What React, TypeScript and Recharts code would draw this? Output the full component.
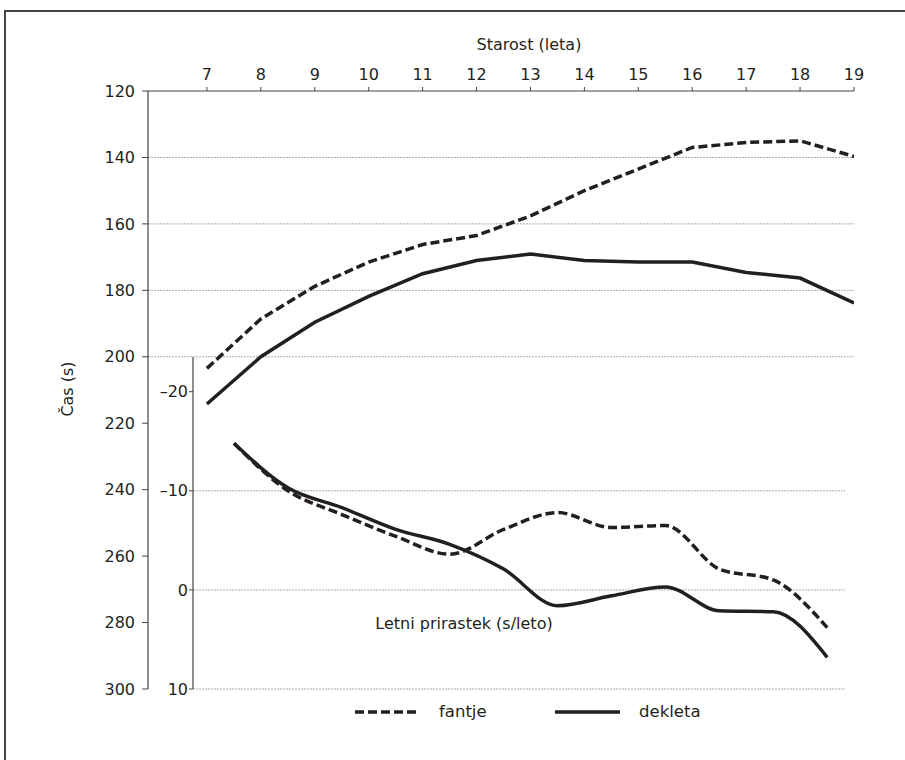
import { Line, LineChart, ReferenceLine, XAxis, YAxis } from "recharts";

// ages for the upper curves (race time)
const ages = [7, 8, 9, 10, 11, 12, 13, 14, 15, 16, 17, 18, 19];
const fantjeTime = [203.5, 188.6, 178.8, 171.5, 166.2, 163.5, 157.6, 150, 143.5, 137, 135.5, 135, 139.7];
const dekletaTime = [214.2, 200, 189.6, 181.8, 175, 171, 169.1, 171, 171.5, 171.5, 174.6, 176.3, 183.8];

// yearly gain, plotted between two ages
const midAges = [7.5, 8.5, 9.5, 10.5, 11.5, 12.5, 13.5, 14.5, 15.5, 16.5, 17.5, 18.5];
const fantjeGain = [-14.8, -10.0, -7.6, -5.4, -3.6, -6.1, -7.8, -6.3, -6.5, -2.1, -1.0, 3.8];
const dekletaGain = [-14.8, -10.3, -8.3, -6.1, -4.6, -2.1, 1.6, 0.6, -0.3, 2.1, 2.2, 6.8];

const timeTicks = [120, 140, 160, 180, 200, 220, 240, 260, 280, 300];
const timeGrid = [140, 160, 180, 200];
const gainTicks = [-20, -10, 0, 10];
const gainGrid = [-10, 0, 10];

const series = [
  { key: "fantje", name: "fantje", dash: "9 4" },
  { key: "dekleta", name: "dekleta", dash: undefined },
];

const timeRows = ages.map((age, i) => ({ age, fantje: fantjeTime[i], dekleta: dekletaTime[i] }));
const gainRows = midAges.map((age, i) => ({ age, fantje: fantjeGain[i], dekleta: dekletaGain[i] }));

const FONT = "'DejaVu Sans', Roboto, sans-serif";
const INK = "#231f20";
const AXIS = "#444";

// axis titles sit at fixed spots, not centred on the axis box
function Title({ px, py, text, rot = 0 }: { px: number; py: number; text: string; rot?: number }) {
  return (
    <text
      x={px}
      y={py}
      textAnchor="middle"
      fontFamily={FONT}
      fontSize={16}
      fill={INK}
      transform={rot ? `rotate(${rot}, ${px}, ${py})` : undefined}
    >
      {text}
    </text>
  );
}

function ChartLegend() {
  return (
    <div
      style={{
        position: "absolute",
        left: 355,
        top: 700,
        display: "flex",
        fontFamily: FONT,
        fontSize: 16.5,
        color: INK,
        lineHeight: "24px",
      }}
    >
      {series.map((s) => (
        <div key={s.key} style={{ display: "flex", alignItems: "center", width: 200 }}>
          <svg width={65} height={8}>
            <line x1={0} y1={4} x2={65} y2={4} stroke={INK} strokeWidth={3.5} strokeDasharray={s.dash} />
          </svg>
          <span style={{ marginLeft: 19 }}>{s.name}</span>
        </div>
      ))}
    </div>
  );
}

const tickStyle = { fontSize: 16, fill: INK, fontFamily: FONT };

export default function App() {
  return (
    <div style={{ position: "absolute", left: 0, top: 0, width: 905, height: 760, overflow: "hidden", background: "#fff" }}>
      <div
        style={{
          position: "absolute",
          left: 4,
          top: 10,
          width: 940,
          height: 800,
          borderTop: `2px solid ${AXIS}`,
          borderLeft: `2px solid ${AXIS}`,
        }}
      />
      <div style={{ position: "absolute", left: 0, top: 0 }}>
        <LineChart width={905} height={760} data={timeRows} margin={{ top: 10, right: 51, bottom: 71, left: 48 }}>
          <XAxis
            dataKey="age"
            type="number"
            orientation="top"
            domain={[5.907, 19]}
            ticks={ages}
            allowDataOverflow
            height={81}
            axisLine={{ stroke: AXIS, strokeWidth: 1.2 }}
            tickLine={{ stroke: AXIS }}
            tickSize={4}
            tickMargin={7}
            tick={tickStyle}
            label={<Title px={529} py={50} text="Starost (leta)" />}
          />
          <YAxis
            type="number"
            domain={[120, 300]}
            reversed
            ticks={timeTicks}
            width={100}
            axisLine={{ stroke: AXIS, strokeWidth: 1.2 }}
            tickLine={{ stroke: AXIS }}
            tickSize={6}
            tickMargin={7}
            tick={tickStyle}
            label={<Title px={73} py={389} rot={-90} text="Čas (s)" />}
          />
          {timeGrid.map((v) => (
            <ReferenceLine key={v} y={v} stroke="#a8a8a8" strokeDasharray="2 1" />
          ))}
          {series.map((s) => (
            <Line
              key={s.key}
              dataKey={s.key}
              name={s.name}
              type="linear"
              stroke={INK}
              strokeWidth={3.5}
              strokeDasharray={s.dash}
              dot={false}
              activeDot={false}
              isAnimationActive={false}
            />
          ))}
        </LineChart>
      </div>
      <div style={{ position: "absolute", left: 0, top: 0 }}>
        <LineChart width={905} height={760} data={gainRows} margin={{ top: 357, right: 60, bottom: 71, left: 133 }}>
          <XAxis dataKey="age" type="number" domain={[6.74, 18.83]} allowDataOverflow hide />
          <YAxis
            type="number"
            domain={[-23.5, 10]}
            reversed
            ticks={gainTicks}
            width={60}
            axisLine={{ stroke: AXIS, strokeWidth: 1.2 }}
            tickLine={{ stroke: AXIS }}
            tickSize={4}
            tickMargin={1}
            tick={tickStyle}
            tickFormatter={(v: number) => String(v).replace("-", "\u2013")}
            label={<Title px={464} py={629} text="Letni prirastek (s/leto)" />}
          />
          {gainGrid.map((v) => (
            <ReferenceLine key={v} y={v} stroke="#a8a8a8" strokeDasharray="2 1" />
          ))}
          {series.map((s) => (
            <Line
              key={s.key}
              dataKey={s.key}
              name={s.name}
              type="monotone"
              stroke={INK}
              strokeWidth={3.5}
              strokeDasharray={s.dash}
              dot={false}
              activeDot={false}
              isAnimationActive={false}
            />
          ))}
        </LineChart>
      </div>
      <ChartLegend />
    </div>
  );
}
